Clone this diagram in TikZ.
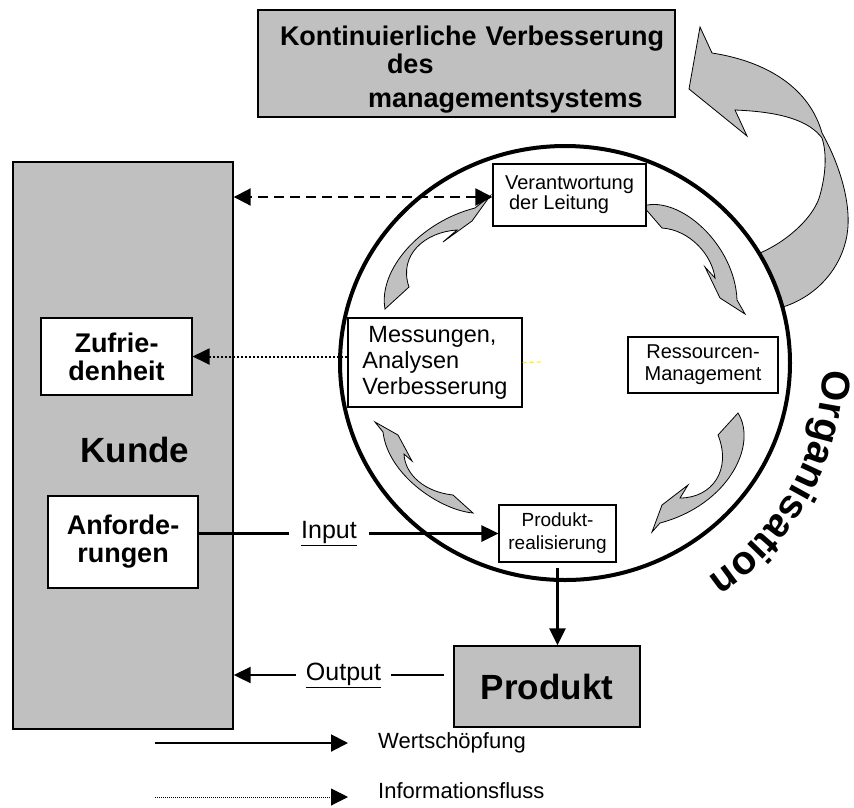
\documentclass[tikz,border=0pt]{standalone}
\usepackage{fontspec}
\setmainfont{Liberation Sans}
\usetikzlibrary{arrows.meta, positioning, decorations.text}
\definecolor{boxgray}{HTML}{C0C0C0}
\tikzstyle{graybox} = [draw, fill=boxgray, rectangle, line width=1.4pt, inner sep=0pt]
\tikzstyle{block} = [draw, fill=white, rectangle, line width=1.1pt, inner sep=0pt, align=center]
\tikzstyle{swirl} = [draw, fill=boxgray, line width=0.8pt, line join=miter]
\tikzstyle{flow} = [line width=2.8pt, -{Triangle[length=17pt,width=16pt]}]
\tikzstyle{info} = [line width=2pt, dash pattern=on 2pt off 2pt, -{Triangle[length=17pt,width=16pt]}]
\newcommand{\lblbold}{\fontsize{27pt}{28pt}\selectfont\bfseries}
\newcommand{\lblhuge}{\fontsize{35pt}{38pt}\selectfont\bfseries}
\newcommand{\lblplain}[2]{\fontsize{#1}{#2}\selectfont}
\newcommand{\orgfont}{\fontsize{40pt}{40pt}\selectfont\bfseries}

\begin{document}
\begin{tikzpicture}[x=1pt,y=-1pt,>=latex]
    \useasboundingbox (0,0) rectangle (854,807);
    % grosser Pfeil: kontinuierliche Verbesserung
    \path[swirl] (712,53) .. controls (770,62) and (810,90) .. (822,133)
        .. controls (840,165) and (852,205) .. (847,235)
        .. controls (842,265) and (820,295) .. (783,307)
        -- (760,253)
        .. controls (790,240) and (815,215) .. (820,195)
        .. controls (827,170) and (826,150) .. (822,138)
        .. controls (810,122) and (785,112) .. (735,110)
        -- (747,136) -- (689,89) -- (700,27) -- cycle;
    % Kreis
    \draw[line width=4pt] (565,363) ellipse [x radius=225, y radius=217];
    % Pfeile im Kreis
    \path[swirl] (385,309) .. controls (378,270) and (420,222) .. (475,208)
        -- (490,196) -- (472,221) -- (443,242) -- (457,230)
        .. controls (425,232) and (398,255) .. (409,287) -- cycle;
    \path[swirl] (643,206) .. controls (680,195) and (735,245) .. (737,300)
        -- (745,314) -- (720,298) -- (705,267) -- (715,278)
        .. controls (712,255) and (690,230) .. (662,228) -- cycle;
    \path[swirl] (738,413) .. controls (758,445) and (728,505) .. (660,523)
        -- (652,532) -- (662,505) -- (688,485) -- (680,498)
        .. controls (712,498) and (732,470) .. (718,435) -- cycle;
    \path[swirl] (473,513) .. controls (440,510) and (388,475) .. (383,432)
        -- (375,422) -- (398,435) -- (412,461) -- (404,454)
        .. controls (405,475) and (425,492) .. (453,495) -- cycle;
    % Organisation
    \path[decorate, decoration={text along path, text align=left,
        text={|\orgfont|Organisation}}]
        (822.9,369.8) arc[start angle=1.5, end angle=80, radius=258];

    % Kaesten
    \node[graybox, minimum width=417pt, minimum height=107pt] (kvp) at (466.5,63.5) {};
    \node[align=left, text width=404pt, inner sep=0pt, font=\lblbold] (kvptext) at ([yshift=-6pt]kvp.center)
        {\hspace*{15.5pt}Kontinuierliche Verbesserung\\ \hspace*{122.5pt}des\\[6pt] \hspace*{103.5pt}managementsystems};
    \node[graybox, minimum width=220pt, minimum height=567pt] (kunde) at (123,445.5) {};
    \node[inner sep=0pt, font=\lblhuge] (kundelbl) at (135,450) {Kunde};
    \node[block, minimum width=151pt, minimum height=77pt, font=\lblbold] (zuf) at (116.5,356.5) {Zufrie-\\denheit};
    \node[block, minimum width=150pt, minimum height=92pt, font=\lblbold] (anf) at (123,542) {Anforde-\\rungen};
    \node[block, minimum width=153pt, minimum height=62pt, align=left, font=\lblplain{20pt}{20pt}] (ver) at (569.5,195)
        {Verantwortung\\\hspace*{4pt}der Leitung};
    \node[block, minimum width=174pt, minimum height=89pt, align=left, font=\lblplain{23.5pt}{26pt}] (mess) at (435,362.5)
        {\hspace*{6pt}Messungen,\\Analysen\\Verbesserung};
    \node[block, minimum width=150pt, minimum height=56pt, font=\lblplain{20pt}{22pt}] (res) at (703,365)
        {Ressourcen-\\Management};
    \node[block, minimum width=117pt, minimum height=57pt, font=\lblplain{19pt}{23pt}] (prr) at (557.5,533.5)
        {Produkt-\\realisierung};
    \node[graybox, minimum width=186pt, minimum height=81pt, font=\lblhuge] (prod) at (547,686.5) {Produkt};

    % Verbindungen
    \draw[line width=2pt, dash pattern=on 10pt off 6pt, {Triangle[length=17pt,width=17pt]}-{Triangle[length=17pt,width=17pt]}]
        (ver.west |- 0,197) -- (kunde.east |- 0,197);
    \draw[info] (zuf.east -| mess.west) -- (zuf.east);
    \coordinate (stub) at (542,362);
    \draw[yellow, line width=1.2pt, dash pattern=on 4pt off 3pt] (mess.east) -- (stub);
    \draw[flow] (anf.east |- prr.west) -- node[pos=0.435, fill=white, inner xsep=12pt, inner ysep=2pt, font=\lblplain{25pt}{25pt}]
        {\underline{Input}} (prr.west);
    \draw[flow, shorten <=5pt] (prr.south) -- (prr.south |- prod.north);
    \draw[line width=2pt, -{Triangle[length=17pt,width=16pt]}, shorten <=9pt]
        ([yshift=11.5pt]prod.west) -- node[pos=0.5, fill=white, inner xsep=10pt, inner ysep=2pt, font=\lblplain{25pt}{25pt}]
        {\underline{Output}} ([yshift=11.5pt]prod.west -| kunde.east);

    % Legende
    \node[anchor=west, inner sep=2pt, font=\lblplain{22pt}{22pt}] (wert) at (376,743) {Wertschöpfung};
    \node[anchor=west, inner sep=2pt, font=\lblplain{22pt}{22pt}] (infl) at (376,791) {Informationsfluss};
    \coordinate (w0) at (155,743);
    \coordinate (i0) at (155,797);
    \draw[line width=2pt, -{Triangle[length=17pt,width=17pt]}, shorten >=28pt] (w0) -- (wert.west);
    \draw[line width=1pt, dash pattern=on 1pt off 1pt, -{Triangle[length=17pt,width=17pt]}, shorten >=28pt] (i0) -- (i0 -| infl.west);
\end{tikzpicture}
\end{document}
